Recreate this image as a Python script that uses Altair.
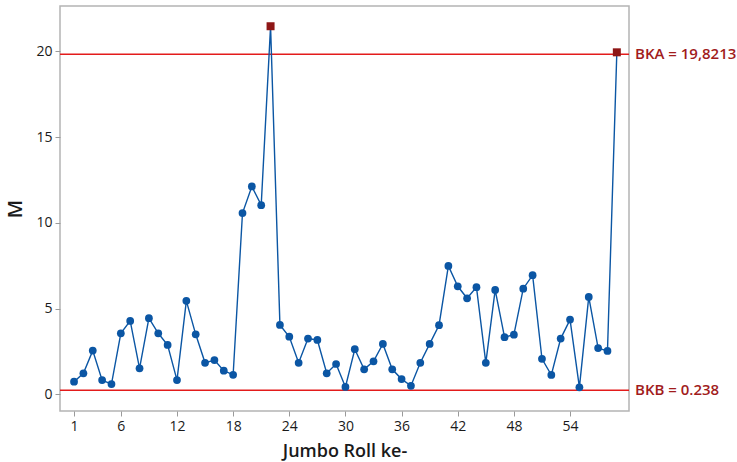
import altair as alt
import pandas as pd

# Moving range per jumbo roll
roll = list(range(1, 60))
mr = [0.74, 1.23, 2.55, 0.83, 0.60, 3.56, 4.28, 1.52, 4.44, 3.56,
      2.88, 0.83, 5.45, 3.50, 1.84, 2.00, 1.38, 1.14, 10.57, 12.12,
      11.03, 21.46, 4.05, 3.36, 1.84, 3.25, 3.17, 1.23, 1.77, 0.43,
      2.63, 1.46, 1.93, 2.94, 1.46, 0.89, 0.50, 1.84, 2.94, 4.03,
      7.49, 6.30, 5.60, 6.25, 1.84, 6.09, 3.33, 3.48, 6.16, 6.95,
      2.07, 1.13, 3.25, 4.36, 0.41, 5.68, 2.70, 2.53, 19.94]

# Control limits
limit_values = [19.8213, 0.238]
limit_labels = ["BKA = 19,8213", "BKB = 0.238"]

x_ticks = [1, 6, 12, 18, 24, 30, 36, 42, 48, 54]
y_ticks = [0, 5, 10, 15, 20]

FONT = "Open Sans"
BLUE = "#0b56a4"
RED_LINE = "#e31b1b"
RED_MARK = "#8e1616"
RED_TEXT = "#a11c1c"

df = pd.DataFrame({"roll": roll, "mr": mr})
df["out"] = (df["mr"] > limit_values[0]) | (df["mr"] < limit_values[1])
limits = pd.DataFrame({"value": limit_values, "label": limit_labels})

x_enc = alt.X(
    "roll:Q",
    title="Jumbo Roll ke-",
    scale=alt.Scale(domain=[-0.5, 60.3], nice=False, zero=False),
    axis=alt.Axis(values=x_ticks, grid=False, domain=False, tickColor="#9a9a9a",
                  tickSize=5, labelPadding=3, titlePadding=9),
)
y_enc = alt.Y(
    "mr:Q",
    title="M",
    scale=alt.Scale(domain=[-0.97, 22.64], nice=False, zero=False),
    axis=alt.Axis(values=y_ticks, grid=False, domain=False, tickColor="#9a9a9a",
                  tickSize=5, labelPadding=3, titleX=-35, titleFontSize=20),
)

base = alt.Chart(df)

line = base.mark_line(color=BLUE, strokeWidth=1.4).encode(x=x_enc, y=y_enc)

dots = base.transform_filter("!datum.out").mark_point(
    shape="circle", filled=True, size=60, color=BLUE, opacity=1
).encode(x="roll:Q", y="mr:Q")

alarms = base.transform_filter("datum.out").mark_point(
    shape="square", filled=True, size=64, color=RED_MARK, opacity=1
).encode(x="roll:Q", y="mr:Q")

rules = alt.Chart(limits).mark_rule(color=RED_LINE, strokeWidth=1.5).encode(
    y="value:Q"
)

labels = alt.Chart(limits).mark_text(
    align="left", baseline="middle", font=FONT, fontSize=15, fontWeight=600,
    color=RED_TEXT
).encode(x=alt.value(575), y="value:Q", text="label:N")

chart = (
    alt.layer(rules, line, dots, alarms, labels)
    .properties(
        width=569,
        height=405,
        padding={"left": 60, "top": 6, "right": 108, "bottom": 51},
        autosize=alt.AutoSizeParams(type="none"),
        background="white",
    )
    .configure_view(stroke="#b4b4b4", strokeWidth=1.5)
    .configure_axis(
        labelFont=FONT, labelFontSize=14, labelColor="#1a1a1a",
        titleFont=FONT, titleFontSize=18, titleFontWeight=600, titleColor="#1a1a1a",
    )
)

chart.save("out.html", embed_options={"renderer": "svg", "actions": False})
